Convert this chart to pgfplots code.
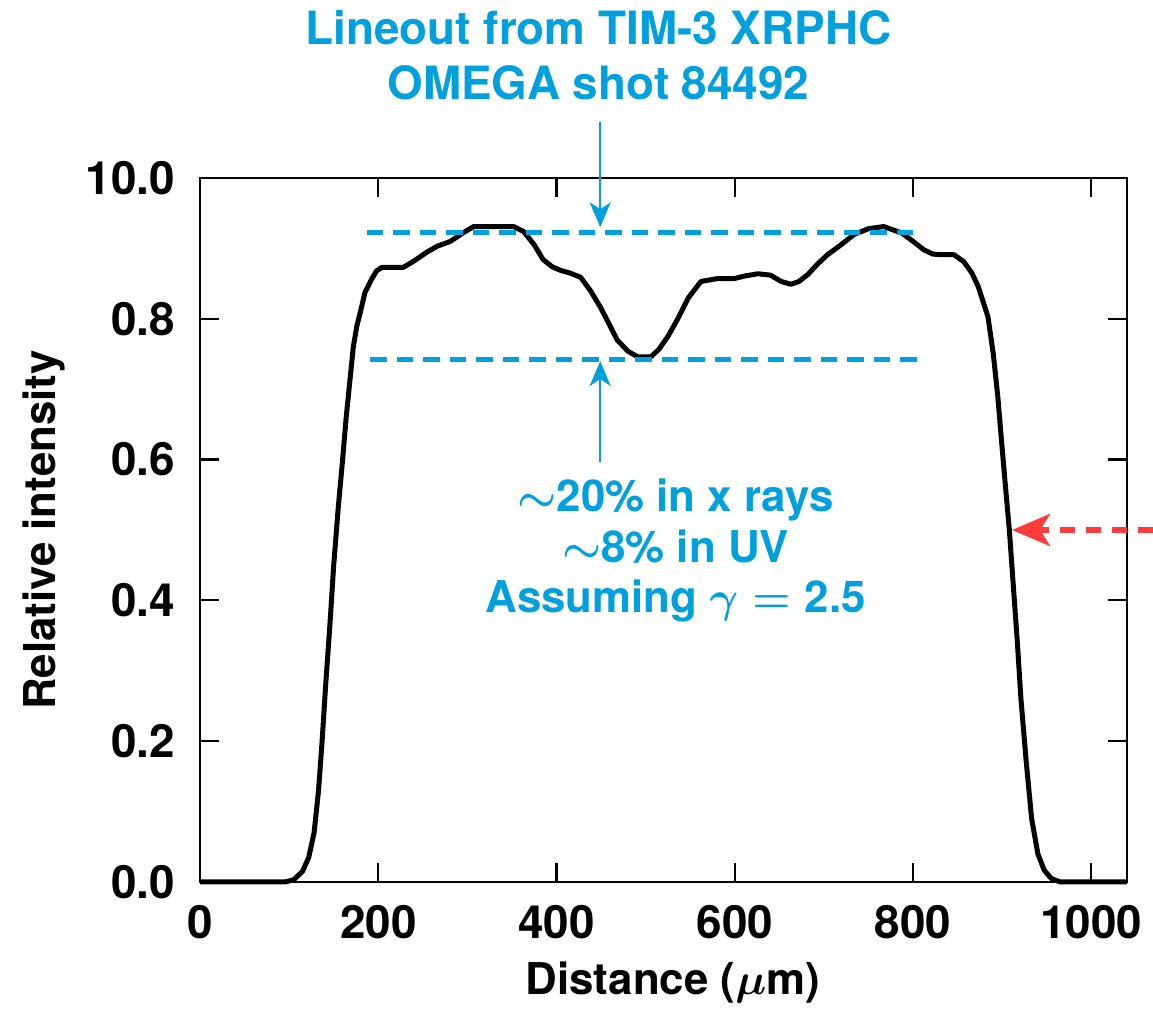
\RequirePackage{fix-cm}
\documentclass[border=0pt]{standalone}
\usepackage{fontspec}
\setmainfont{TeX Gyre Heros}
\usepackage{pgfplots}
\pgfplotsset{compat=1.18}
\usetikzlibrary{arrows.meta}
\definecolor{lleblue}{RGB}{0,160,222}
\definecolor{llered}{RGB}{255,60,60}
\newcommand{\bigfont}{\fontsize{44}{50}\selectfont\bfseries}
\newcommand{\tickfont}{\fontsize{46}{50}\selectfont\bfseries}
\newcommand{\titlefont}{\fontsize{46}{55}\selectfont\bfseries}
\begin{document}
\begin{tikzpicture}
\useasboundingbox (0,0) rectangle (1153bp,1027bp);
\begin{axis}[
  at={(200bp,145bp)}, anchor=south west,
  scale only axis, width=927bp, height=704bp,
  xmin=0, xmax=1040, ymin=0, ymax=1,
  xtick={0,200,400,600,800,1000},
  xticklabels={0,200,400,600,800,1000},
  ytick={0,0.2,0.4,0.6,0.8,1.0},
  yticklabels={0.0,0.2,0.4,0.6,0.8,10.0},
  tick align=inside, major tick length=19bp,
  axis line style={line width=2.2bp},
  tick style={line width=2.2bp, black},
  every tick label/.append style={font=\tickfont, inner sep=0pt},
  xticklabel style={yshift=-23bp},
  yticklabel style={xshift=-25bp},
  xlabel={Distance ({\boldmath$\mu$}m)},
  ylabel={Relative intensity},
  label style={font=\bigfont, inner sep=0pt},
  xlabel style={at={(axis description cs:0.51,-0.1435)}, anchor=center},
  ylabel style={at={(axis description cs:-0.168,0.5)}, anchor=center},
  clip=false,
]
\addplot[black, line width=5bp, line join=round] coordinates {
(0,0) (50,0) (95,0) (105,0.003) (115,0.015) (122,0.035) (128,0.07)
(133,0.13) (137,0.2) (141,0.28) (146,0.37) (150,0.45) (155,0.53)
(160,0.60) (164,0.66) (168,0.71) (172,0.76) (176,0.79) (180,0.81)
(185,0.837) (192,0.855) (198,0.868) (204,0.873) (215,0.873) (228,0.873)
(240,0.882) (255,0.895) (266,0.903) (281,0.910) (295,0.922) (307,0.931)
(330,0.931) (352,0.931) (363,0.924) (375,0.905) (385,0.884) (395,0.874)
(404,0.869) (415,0.865) (427,0.859) (438,0.840) (449,0.817) (458,0.795)
(468,0.770) (480,0.754) (491,0.746) (506,0.746) (515,0.757) (525,0.775)
(536,0.800) (548,0.830) (562,0.853) (580,0.857) (599,0.857) (612,0.861)
(626,0.864) (640,0.862) (652,0.853) (663,0.849) (672,0.853) (682,0.863)
(693,0.878) (704,0.891) (719,0.905) (734,0.920) (750,0.928) (767,0.931)
(787,0.922) (800,0.910) (812,0.898) (822,0.892) (831,0.891) (846,0.891)
(857,0.881) (866,0.865) (873,0.846) (884,0.803) (890,0.75) (895,0.69)
(899,0.63) (903,0.571) (908,0.50) (912,0.429) (917,0.34) (921,0.26)
(927,0.17) (933,0.09) (940,0.04) (947,0.017) (955,0.005) (965,0) (1040,0)
};
\addplot[lleblue, line width=5bp, dash pattern=on 16.5bp off 10bp] coordinates {(187,0.923) (804,0.923)};
\addplot[lleblue, line width=5bp, dash pattern=on 16.5bp off 10bp] coordinates {(191,0.7415) (808,0.7415)};
\draw[lleblue, line width=2.5bp, -{Stealth[length=25bp,width=21bp,inset=7bp]}] (axis cs:449,1.0795) -- (axis cs:449,0.930);
\draw[lleblue, line width=2.5bp, -{Stealth[length=25bp,width=21bp,inset=7bp]}] (axis cs:449,0.5966) -- (axis cs:449,0.740);
\draw[llered, line width=6bp, dash pattern=on 15bp off 11bp, -{Stealth[length=38bp,width=32bp,inset=10bp]}] (axis cs:1069,0.5) -- (axis cs:911,0.5);
\node[lleblue, font=\titlefont, anchor=base, inner sep=0pt] at (axis cs:447,1.189) {Lineout from TIM-3 XRPHC};
\node[lleblue, font=\titlefont, anchor=base, inner sep=0pt] at (axis cs:447,1.1108) {OMEGA shot 84492};
\node[lleblue, font=\bigfont, anchor=base, inner sep=0pt] at (axis cs:533.5,0.5256) {{\boldmath$\sim$}20\% in x rays};
\node[lleblue, font=\bigfont, anchor=base, inner sep=0pt] at (axis cs:533.5,0.4545) {{\boldmath$\sim$}8\% in UV};
\node[lleblue, font=\bigfont, anchor=base, inner sep=0pt] at (axis cs:533.5,0.3821) {Assuming {\boldmath$\gamma = {}$}2.5};
\end{axis}
\end{tikzpicture}
\end{document}
